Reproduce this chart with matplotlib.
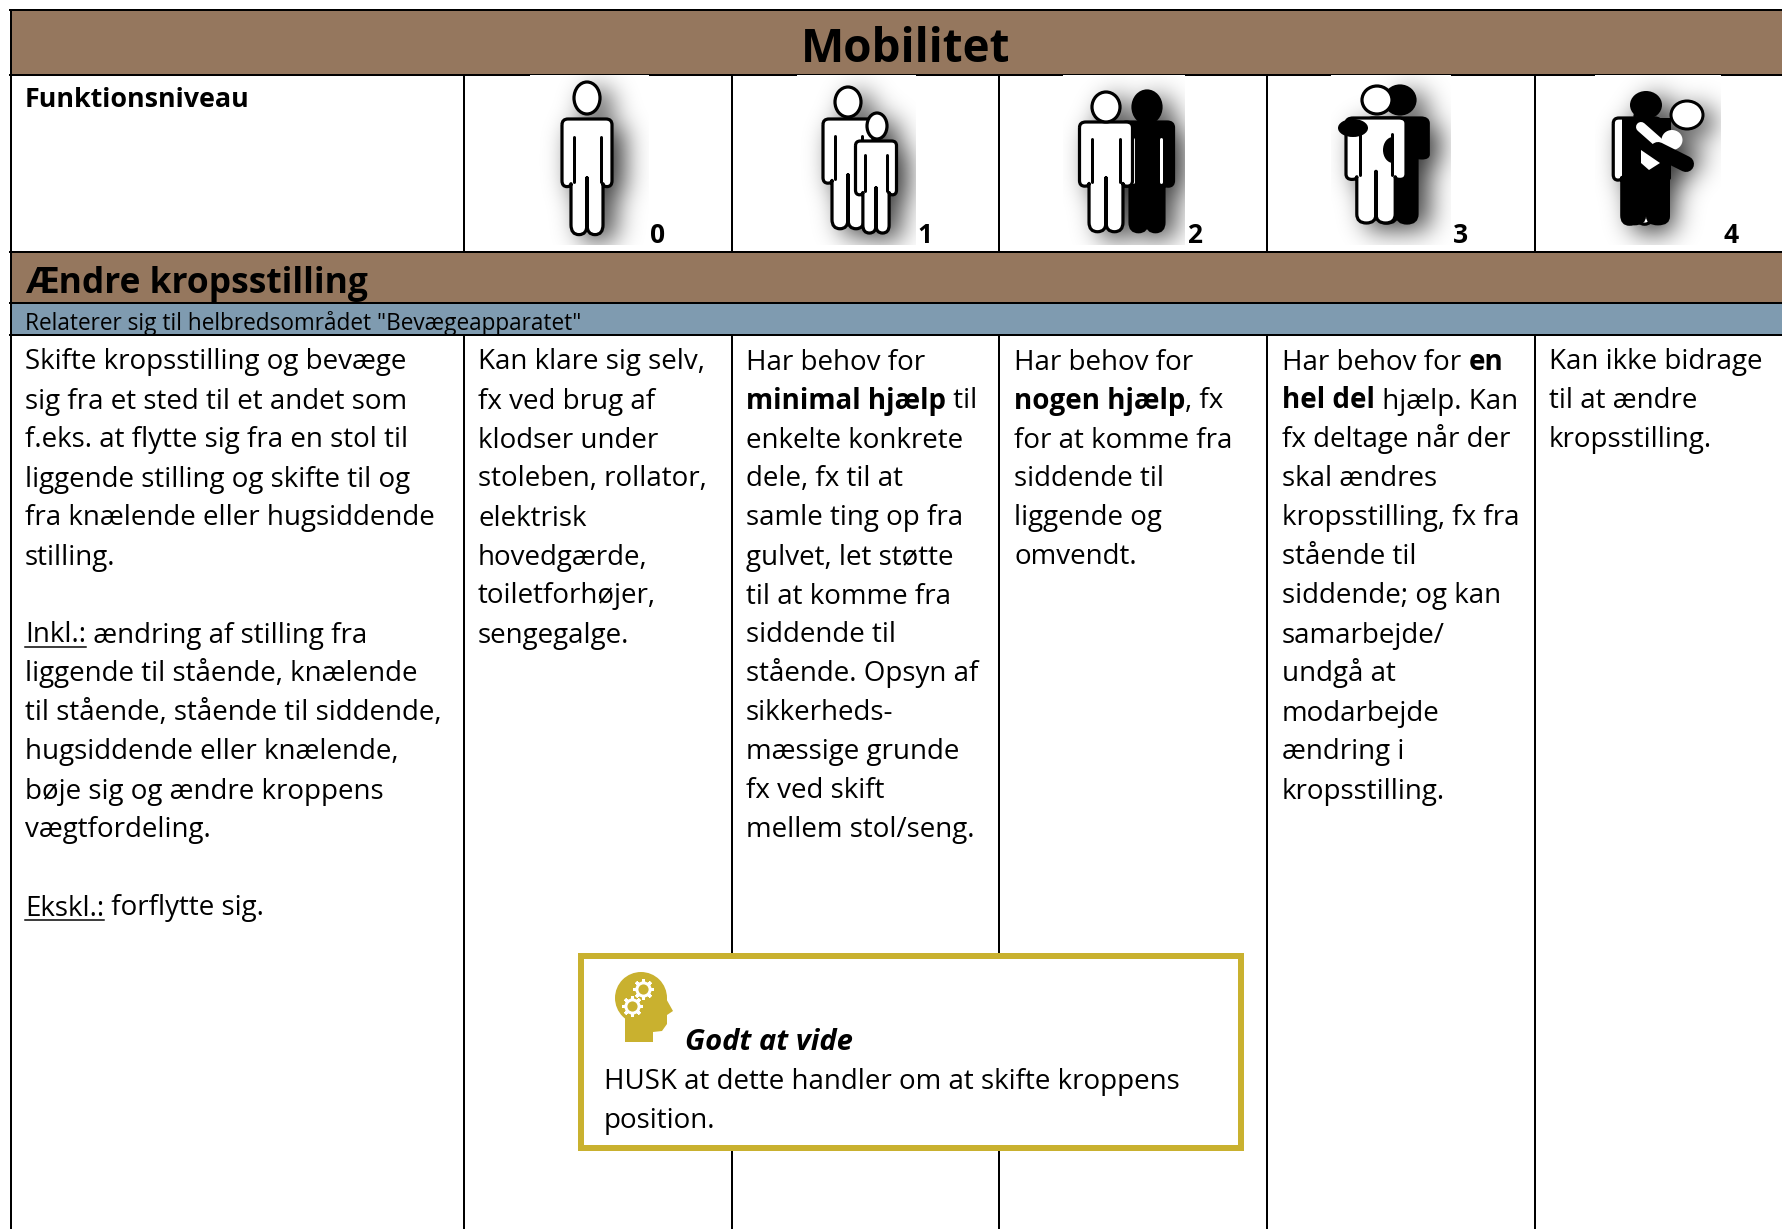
import re
import numpy as np
import matplotlib
matplotlib.use("Agg")
import matplotlib.pyplot as plt
from matplotlib.patches import Rectangle, Ellipse, PathPatch, Polygon
from matplotlib.path import Path

BROWN = "#95775E"
BLUE = "#7F9BB0"
GOLD = "#C9B12F"
FONT = "Open Sans"
BODY_SIZE = 20.0
LINE_H = 39.0

title = "Mobilitet"
level_label = "Funktionsniveau"
levels = ["0", "1", "2", "3", "4"]
section = "Ændre kropsstilling"
relates = 'Relaterer sig til helbredsområdet "Bevægeapparatet"'

col0 = ["Skifte kropsstilling og bevæge", "sig fra et sted til et andet som",
        "f.eks. at flytte sig fra en stol til", "liggende stilling og skifte til og",
        "fra knælende eller hugsiddende", "stilling.", "",
        "__Inkl.:__ ændring af stilling fra", "liggende til stående, knælende",
        "til stående, stående til siddende,", "hugsiddende eller knælende,",
        "bøje sig og ændre kroppens", "vægtfordeling.", "",
        "__Ekskl.:__ forflytte sig."]
col1 = ["Kan klare sig selv,", "fx ved brug af", "klodser under", "stoleben, rollator,",
        "elektrisk", "hovedgærde,", "toiletforhøjer,", "sengegalge."]
col2 = ["Har behov for", "**minimal hjælp** til", "enkelte konkrete", "dele, fx til at",
        "samle ting op fra", "gulvet, let støtte", "til at komme fra", "siddende til",
        "stående. Opsyn af", "sikkerheds-", "mæssige grunde", "fx ved skift",
        "mellem stol/seng."]
col3 = ["Har behov for", "**nogen hjælp**, fx", "for at komme fra", "siddende til",
        "liggende og", "omvendt."]
col4 = ["Har behov for **en**", "**hel del** hjælp. Kan", "fx deltage når der", "skal ændres",
        "kropsstilling, fx fra", "stående til", "siddende; og kan", "samarbejde/",
        "undgå at", "modarbejde", "ændring i", "kropsstilling."]
col5 = ["Kan ikke bidrage", "til at ændre", "kropsstilling."]
columns = [col0, col1, col2, col3, col4, col5]
box_head = "Godt at vide"
box_lines = ["HUSK at dette handler om at skifte kroppens", "position."]

col_x = [11, 464, 732, 999, 1267, 1535]
text_x = [25, 478, 746, 1014, 1282, 1549]
icon_boxes = [(530, 649), (797, 916), (1063, 1185), (1331, 1451), (1595, 1721)]
num_x = [658, 925, 1195, 1461, 1731]

# person outline, x/y relative to the middle of the shoulders
P = [(-25, 6), (-25, 0), (-19, 0), (19, 0), (25, 0), (25, 6), (25, 63), (25, 69), (20, 69),
     (16, 69), (16, 66), (16, 108), (16, 118), (8, 118), (0, 118), (0, 108), (0, 60), (0, 108),
     (0, 118), (-8, 118), (-16, 118), (-16, 108), (-16, 66), (-16, 69), (-20, 69), (-25, 69),
     (-25, 63), (-25, 6)]
C = [Path.MOVETO, Path.CURVE3, Path.CURVE3, Path.LINETO, Path.CURVE3, Path.CURVE3, Path.LINETO,
     Path.CURVE3, Path.CURVE3, Path.CURVE3, Path.CURVE3, Path.LINETO, Path.CURVE3, Path.CURVE3,
     Path.CURVE3, Path.CURVE3, Path.LINETO, Path.LINETO, Path.CURVE3, Path.CURVE3, Path.CURVE3,
     Path.CURVE3, Path.LINETO, Path.CURVE3, Path.CURVE3, Path.CURVE3, Path.CURVE3, Path.LINETO]

fig = plt.figure(figsize=(17.82, 12.29), dpi=100)
ax = fig.add_axes([0, 0, 1, 1])
px = 0.72


def shape(cx, sy, sxs, sys_, arm=1.0):
    pts = []
    for x, y in P:
        if 60 < y < 70 and abs(x) >= 16:
            y = y * arm
        pts.append((cx + x * sxs, sy + y * sys_))
    return Path(pts, C)


def ell(cx, cy, rx, ry):
    return Path.unit_circle().transformed(
        matplotlib.transforms.Affine2D().scale(rx, ry).translate(cx, cy))


def blur1d(a, kern, axis):
    return np.apply_along_axis(lambda v: np.convolve(v, kern, mode="same"), axis, a)


def shadow(clip, paths, dx=11, dy=7, sigma=13.0, strength=0.8):
    # rasterise the figures on a 1px grid, blur, and lay that under the icon
    x0, x1 = clip.get_x() - 40, clip.get_x() + clip.get_width() + 40
    y0, y1 = 35, 285
    xs, ys = np.meshgrid(np.arange(x0, x1) + 0.5, np.arange(y0, y1) + 0.5)
    pts = np.column_stack([xs.ravel() - dx, ys.ravel() - dy])
    mask = np.zeros(xs.size, bool)
    for p in paths:
        mask |= p.contains_points(pts, radius=1.0)
    m = mask.reshape(xs.shape).astype(float)
    r = np.arange(-39, 40)
    kern = np.exp(-r ** 2 / (2 * sigma ** 2))
    kern /= kern.sum()
    m = blur1d(blur1d(m, kern, 0), kern, 1)
    rgba = np.zeros(m.shape + (4,))
    rgba[..., 3] = np.clip(m * strength, 0, 1)
    im = ax.imshow(rgba, extent=(x0, x1, y1, y0), aspect="auto", interpolation="bilinear", zorder=3)
    im.set_clip_path(clip)


def person(cx, sy, sxs, sys_, head, dark=False, z=5, slits=True, arm=1.0):
    fc = "k" if dark else "w"
    ax.add_patch(PathPatch(shape(cx, sy, sxs, sys_, arm), fc=fc, ec="k", lw=3.2 * px, joinstyle="round", zorder=z))
    lc = "w" if dark else "k"
    if slits:
        for s in (-1, 1):
            ax.plot([cx + s * 13.5 * sxs] * 2, [sy + 18 * sys_, sy + 64 * sys_], color=lc, lw=3 * px,
                    solid_capstyle="round", zorder=z + 0.1)
    ax.add_patch(Ellipse(head[:2], 2 * head[2], 2 * head[3], fc=fc, ec="k", lw=3.2 * px, zorder=z))


def rich(x, y, line, size):
    # draw a line piece by piece since bold/underline change inside it
    r = fig.canvas.get_renderer()
    for tok in re.split(r"(\*\*.+?\*\*|__.+?__)", line):
        if not tok:
            continue
        bold = tok.startswith("**")
        under = tok.startswith("__")
        s = tok.strip("*") if bold else tok.strip("_") if under else tok
        t = ax.text(x, y, s, fontsize=size, family=FONT, weight="bold" if bold else "normal",
                    va="baseline", ha="left", color="k", zorder=8)
        w = t.get_window_extent(r).width
        if under:
            ax.plot([x, x + w], [y + 4, y + 4], color="k", lw=1.5 * px, zorder=8)
        x += w


# bands
ax.add_patch(Rectangle((11, 10), 1771, 65, fc=BROWN, ec="none"))
ax.add_patch(Rectangle((11, 252), 1771, 51, fc=BROWN, ec="none"))
ax.add_patch(Rectangle((11, 303), 1771, 32, fc=BLUE, ec="none"))

# grid
for y in [10, 75, 252, 303, 335]:
    ax.plot([10, 1782], [y, y], color="k", lw=2 * px, zorder=2)
ax.plot([11, 11], [10, 1229], color="k", lw=2 * px, zorder=2)
for x in col_x[1:]:
    ax.plot([x, x], [75, 252], color="k", lw=2 * px, zorder=2)
    ax.plot([x, x], [335, 1229], color="k", lw=2 * px, zorder=2)

ax.text(906, 62, title, fontsize=33, family=FONT, weight="bold", ha="center", va="baseline", zorder=8)
ax.text(25, 107, level_label, fontsize=19.4, family=FONT, weight="bold", va="baseline", zorder=8)
ax.text(25, 293, section, fontsize=25.5, family=FONT, weight="bold", va="baseline", zorder=8)
ax.text(25, 330, relates, fontsize=16.3, family=FONT, va="baseline", zorder=8)

for lv, nx in zip(levels, num_x):
    ax.text(nx, 243, lv, fontsize=19, family=FONT, weight="bold", ha="center", va="baseline", zorder=8)

# icon pictures sit on white and cut into the line above them
clips = []
for x0, x1 in icon_boxes:
    r = Rectangle((x0, 74.6), x1 - x0, 170, fc="w", ec="none", zorder=2.5)
    ax.add_patch(r)
    clips.append(r)

# level 0
shadow(clips[0], [shape(587, 119, 1, 0.98), ell(587, 98, 13, 16)])
person(587, 119, 1, 0.98, (587, 98, 13, 16))

# level 1
shadow(clips[1], [shape(848, 119, 1, 0.93), ell(848, 102, 13, 15),
                  shape(876, 141, 0.82, 0.78), ell(877, 126, 10, 13)])
person(848, 119, 1, 0.93, (848, 102, 13, 15))
person(876, 141, 0.82, 0.78, (877, 126, 10, 13), z=6)

# level 2
shadow(clips[2], [shape(1106, 122, 1.06, 0.93), ell(1106, 107, 14, 15),
                  shape(1147, 122, 1.06, 0.93), ell(1147, 107, 14, 16)])
person(1147, 122, 1.06, 0.93, (1147, 107, 14, 16), dark=True, z=5)
person(1106, 122, 1.06, 0.93, (1106, 107, 14, 15), z=6)

# level 3
shadow(clips[3], [shape(1397, 118, 1.25, 0.89, 0.65), shape(1376, 118, 1.2, 0.89), ell(1400, 100, 15, 14)])
person(1397, 118, 1.25, 0.89, (1400, 100, 15, 14), dark=True, z=5, slits=False, arm=0.65)
person(1376, 118, 1.2, 0.89, (1377, 100, 15, 14), z=6)
ax.add_patch(Ellipse((1353, 128), 30, 18, fc="k", ec="none", zorder=7))
hand = Ellipse((1393, 150), 20, 26, fc="k", ec="none", zorder=6.05)
ax.add_patch(hand)
hand.set_clip_path(Rectangle((1380, 130), 13.5, 40, transform=ax.transData))

# level 4
shadow(clips[4], [shape(1646, 118, 1.0, 0.91), shape(1637, 118, 0.95, 0.9),
                  ell(1646, 105, 16, 14), ell(1687, 115, 16, 14), ell(1675, 152, 15, 12)])
person(1637, 118, 0.95, 0.9, (1637, 116, 2, 2), z=4)
black = PathPatch(shape(1646, 118, 1.5, 0.91), fc="k", ec="none", zorder=5)
ax.add_patch(black)
black.set_clip_path(Rectangle((1622, 110), 49, 120, transform=ax.transData))
ax.add_patch(Ellipse((1646, 105), 32, 28, fc="k", ec="none", zorder=6))
ax.add_patch(Ellipse((1687, 115), 32, 28, fc="w", ec="k", lw=3 * px, zorder=6))
ax.plot([1641, 1658], [127, 142], color="w", lw=10 * px, solid_capstyle="round", zorder=7)
ax.add_patch(Polygon([(1641, 150), (1660, 163), (1649, 170), (1641, 163)], fc="w", ec="none", zorder=7))
ax.plot([1658, 1686], [150, 164], color="k", lw=16 * px, solid_capstyle="round", zorder=7.5)
ax.add_patch(Ellipse((1672, 140), 21, 20, fc="w", ec="none", zorder=7))

# body text
for xt, lines in zip(text_x, columns):
    for i, line in enumerate(lines):
        if line:
            rich(xt, 369.5 + i * LINE_H, line, BODY_SIZE)

# note box
ax.add_patch(Rectangle((581, 956), 660, 192, fc="w", ec=GOLD, lw=6 * px, zorder=9))
ax.text(685, 1050, box_head, fontsize=21, family=FONT, weight="bold", style="italic", va="baseline", zorder=10)
for i, line in enumerate(box_lines):
    ax.text(604, 1089 + i * LINE_H, line, fontsize=BODY_SIZE, family=FONT, va="baseline", zorder=10)

# head with gears
ax.add_patch(Ellipse((641, 998), 52, 52, fc=GOLD, ec="none", zorder=10))
ax.add_patch(Polygon([(625, 1010), (625, 1042), (653, 1042), (653, 1032), (662, 1031), (667, 1024),
                      (667, 1015), (673, 1011), (664, 995), (640, 995)], fc=GOLD, ec="none", zorder=10))
for gx, gy in [(643, 989), (632, 1006)]:
    ax.plot(gx, gy, marker=(8, 2, 0), ms=15, mec="w", mew=3 * px, zorder=11)
    ax.plot(gx, gy, marker="o", ms=9.5, mfc=GOLD, mec="w", mew=3 * px, zorder=12)

ax.set_xlim(0, 1782)
ax.set_ylim(1229, 0)
ax.axis("off")
fig.savefig("out.png", dpi=100, facecolor="w")
